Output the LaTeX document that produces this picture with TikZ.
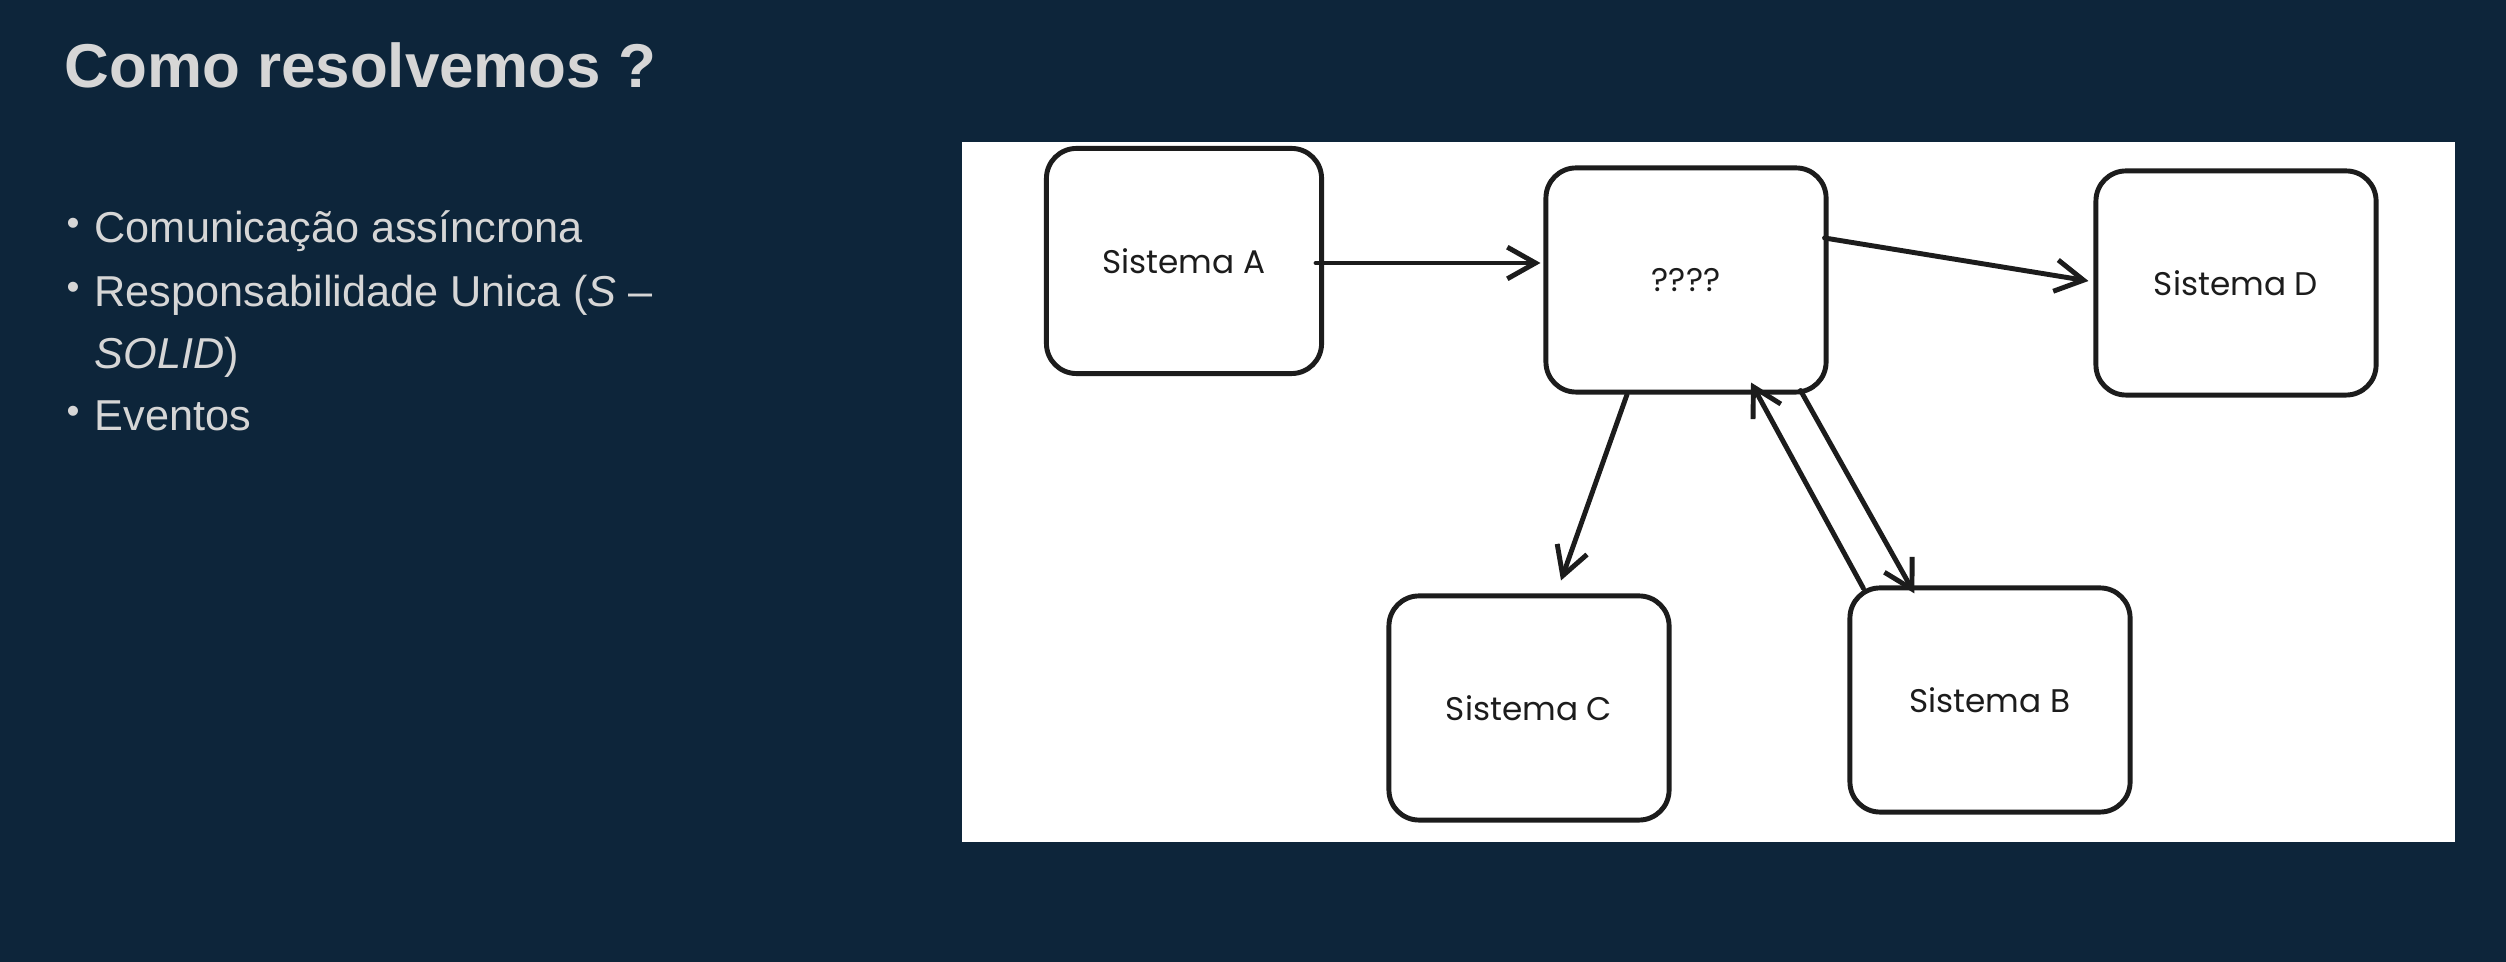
\documentclass[tikz,border=0pt]{standalone}
\usepackage{fontspec}
\setmainfont{Liberation Sans}
\newfontfamily\handfont{Poppins}
\usetikzlibrary{arrows.meta,calc}
\definecolor{bg}{RGB}{13,37,58}
\definecolor{txt}{RGB}{214,214,214}
\definecolor{ink}{RGB}{28,28,28}
\tikzset{
  sysbox/.style={draw=ink, line width=1.4pt, rounded corners=0.3cm, fill=white,
    minimum width=2.8cm, minimum height=2.24cm, inner sep=0pt,
    font=\handfont\fontsize{9.3}{11}\selectfont, text=ink},
  conn/.style={draw=ink, line width=1.4pt, line cap=round, -{Straight Barb[length=8pt,width=9pt]}},
  btext/.style={anchor=base west, text=txt, font=\fontsize{12.3}{15}\selectfont, inner sep=0pt},
  bdot/.style={anchor=base west, text=txt, font=\fontsize{10.5}{13}\selectfont, inner sep=0pt},
}
\begin{document}
\begin{tikzpicture}[x=0.01cm,y=-0.01cm]
  \fill[bg] (0,0) rectangle (2506,962);
  \useasboundingbox (0,0) rectangle (2506,962);
  % title
  \node[anchor=base west, text=txt, inner sep=0pt, font=\bfseries\fontsize{17.6}{21}\selectfont] (title) at (64,88) {Como resolvemos ?};
  % bullets
  \node[bdot] (d1) at (66,236) {\textbullet};
  \node[btext] (b1) at (94,243) {Comunicação assíncrona};
  \node[bdot] (d2) at (66,300) {\textbullet};
  \node[btext] (b2) at (94,307) {Responsabilidade Unica (\textit{S} –};
  \node[btext] (b2b) at (94,369) {\textit{SOLID})};
  \node[bdot] (d3) at (66,424) {\textbullet};
  \node[btext] (b3) at (94,431) {Eventos};
  % panel
  \fill[white] (962,142) rectangle (2455,842);
  % boxes
  \node[sysbox, minimum width=2.75cm, minimum height=2.25cm] (A) at (1184,261) {Sistema A};
  \node[sysbox] (Q) at (1686,280) {????};
  \node[sysbox] (D) at (2236,283) {Sistema D};
  \node[sysbox] (C) at (1529,708) {Sistema C};
  \node[sysbox] (B) at (1990,700) {Sistema B};
  % connector ends
  \coordinate (aq1) at ($(A.east)+(-8,2)$);
  \coordinate (aq2) at ($(Q.west)+(-3,-17)$);
  \coordinate (qd1) at ($(Q.east)+(-4,-42)$);
  \coordinate (qd2) at ($(D.west)+(-5,-2)$);
  \coordinate (qc1) at ($(Q.south)+(-59,0)$);
  \coordinate (qc2) at ($(C.north)+(32,-13)$);
  \coordinate (qb1) at ($(Q.south east)+(-28,-4)$);
  \coordinate (qb2) at ($(B.north west)+(67,8)$);
  \coordinate (bq1) at ($(B.north west)+(16,3)$);
  \coordinate (bq2) at ($(Q.south)+(65,-12)$);
  \draw[conn] (aq1) -- (aq2);
  \draw[conn] (qd1) -- (qd2);
  \draw[conn] (qc1) -- (qc2);
  \draw[conn] (qb1) -- (qb2);
  \draw[conn] (bq1) -- (bq2);
\end{tikzpicture}
\end{document}
